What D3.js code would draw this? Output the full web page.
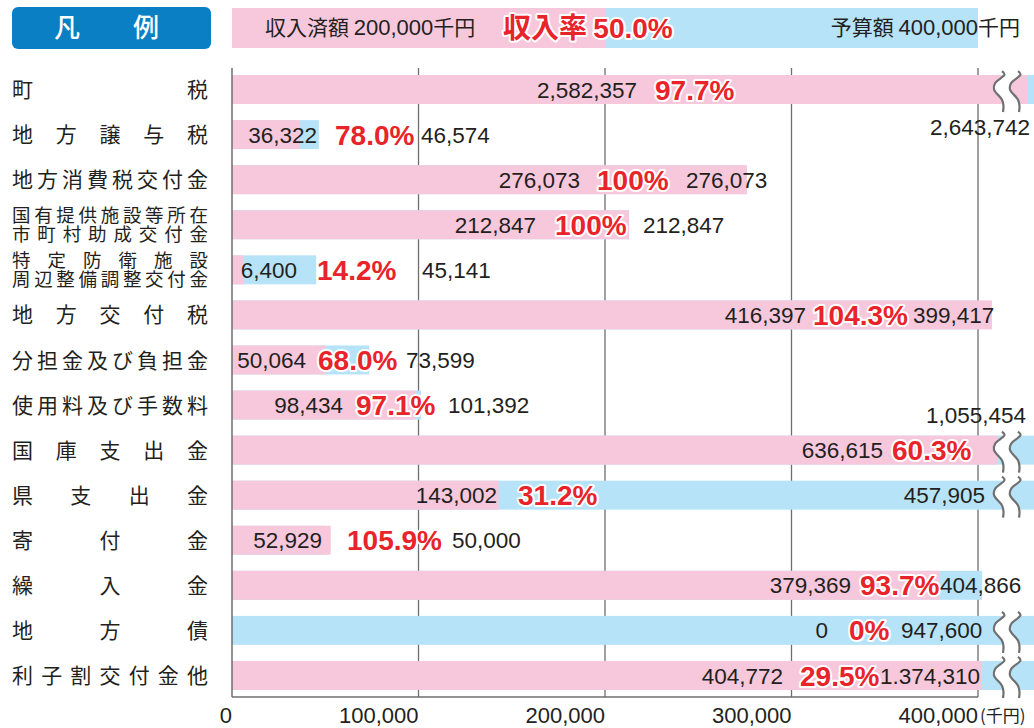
<!DOCTYPE html>
<html><head><meta charset="utf-8">
<script src="https://cdn.jsdelivr.net/npm/d3@7"></script>
<style>
html,body{margin:0;padding:0;background:#fff;}
svg{display:block;}
</style></head>
<body>
<script>
// ---------- data ----------
const categories = ["町税","地方譲与税","地方消費税交付金","国有提供施設等所在\n市町村助成交付金","特定防衛施設\n周辺整備調整交付金","地方交付税","分担金及び負担金","使用料及び手数料","国庫支出金","県支出金","寄付金","繰入金","地方債","利子割交付金他"];
const income = [2582357,36322,276073,212847,6400,416397,50064,98434,636615,143002,52929,379369,0,404772];
const budget = [2643742,46574,276073,212847,45141,399417,73599,101392,1055454,457905,50000,404866,947600,1374310];
const rateLabels = ["97.7%","78.0%","100%","100%","14.2%","104.3%","68.0%","97.1%","60.3%","31.2%","105.9%","93.7%","0%","29.5%"];
const incomeLabels = ["2,582,357","36,322","276,073","212,847","6,400","416,397","50,064","98,434","636,615","143,002","52,929","379,369","0","404,772"];
const budgetLabels = ["2,643,742","46,574","276,073","212,847","45,141","399,417","73,599","101,392","1,055,454","457,905","50,000","404,866","947,600","1.374,310"];
const xTicks = [0,100000,200000,300000,400000];
const xTickLabels = ["0","100,000","200,000","300,000","400,000"];
const legendIncome = 200000, legendBudget = 400000, legendRate = "50.0%";

// ---------- layout (label positions, px) ----------
// [income text right edge, rate text left edge, budget text left edge | null = placed outside | "rN" = right-aligned at N]
const labelX = [
  [637,655,null],[317,335,421],[580,597,686],[536,555,643],[297,317,422],
  [806,813,913],[306,318,406],[343,356,448],[883,892,null],[497,518,"r985"],
  [322,347,452],[851,860,940],[828,849,901],[783,800,880]
];

const W = 1034, H = 728;
const pink = "#f7c8dc", blue = "#b6e3f7", red = "#e8232a", ink = "#231f20", grid = "#6e6e6e";
const numFont = "'Liberation Sans', Arial, Helvetica, sans-serif";
const cjkFont = "'Noto Sans CJK JP', 'Noto Sans', sans-serif";

const svg = d3.select("body").append("svg").attr("width", W).attr("height", H);

// x scale with a compressed segment beyond 400,000 (break zone)
const breakAt = 420000;
const x = d3.scaleLinear()
  .domain([0, 400000, breakAt, 2520000, 2643742])
  .range([232, 978, 995, 1020, 1034]);
const y = d3.scaleBand().domain(d3.range(categories.length)).range([67, 698]).paddingInner(0.357).paddingOuter(0.1785);

// ---------- legend ----------
svg.append("rect").attr("x",12).attr("y",7).attr("width",199).attr("height",42).attr("rx",6).attr("fill","#0a7fc4");
svg.append("text").attr("x",67).attr("y",28).attr("dy","0.35em").attr("text-anchor","middle")
  .attr("font-family",cjkFont).attr("font-size",26).attr("font-weight",500).attr("fill","#fff").text("凡");
svg.append("text").attr("x",146).attr("y",28).attr("dy","0.35em").attr("text-anchor","middle")
  .attr("font-family",cjkFont).attr("font-size",26).attr("font-weight",500).attr("fill","#fff").text("例");
svg.append("rect").attr("x",x(0)).attr("y",8).attr("width",x(legendBudget)-x(0)).attr("height",40).attr("fill",blue);
svg.append("rect").attr("x",x(0)).attr("y",8).attr("width",x(legendIncome)-x(0)).attr("height",40).attr("fill",pink);
const lt1 = svg.append("text").attr("x",265).attr("y",28).attr("dy","0.35em").attr("fill",ink).attr("font-size",21);
lt1.append("tspan").attr("font-family",cjkFont).text("収入済額 ");
lt1.append("tspan").attr("font-family",numFont).attr("font-size",22).text(d3.format(",")(legendIncome));
lt1.append("tspan").attr("font-family",cjkFont).text("千円");
const lt2 = svg.append("text").attr("x",503).attr("y",28).attr("dy","0.35em").attr("fill",red)
  .attr("font-weight","bold").attr("font-size",28)
  .attr("stroke","#fff").attr("stroke-width",4).attr("stroke-linejoin","round").attr("paint-order","stroke");
lt2.append("tspan").attr("font-family",cjkFont).text("収入率 ");
lt2.append("tspan").attr("font-family",numFont).text(legendRate);
const lt3 = svg.append("text").attr("x",1020).attr("y",28).attr("dy","0.35em").attr("text-anchor","end").attr("fill",ink).attr("font-size",21);
lt3.append("tspan").attr("font-family",cjkFont).text("予算額 ");
lt3.append("tspan").attr("font-family",numFont).attr("font-size",22).text(d3.format(",")(legendBudget));
lt3.append("tspan").attr("font-family",cjkFont).text("千円");

// ---------- grid ----------
const gTop = 68, gBot = 697;
svg.append("g").selectAll("line").data(xTicks.slice(1)).join("line")
  .attr("x1",d=>x(d)).attr("x2",d=>x(d)).attr("y1",gTop).attr("y2",gBot)
  .attr("stroke",grid).attr("stroke-width",1.3);

// ---------- bars ----------
const rows = categories.map((c,i)=>({i,c,inc:income[i],bud:budget[i]}));
const budEnd = d => d.bud > breakAt ? Math.max(x(d.bud), W) : x(d.bud);
svg.append("g").selectAll("rect").data(rows).join("rect")
  .attr("x",x(0)).attr("y",d=>y(d.i)).attr("height",y.bandwidth())
  .attr("width",d=>budEnd(d)-x(0)).attr("fill",blue);
svg.append("g").selectAll("rect").data(rows).join("rect")
  .attr("x",x(0)).attr("y",d=>y(d.i)).attr("height",y.bandwidth())
  .attr("width",d=>Math.max(0,x(d.inc)-x(0))).attr("fill",pink);

// ---------- break symbols ----------
const breakRows = rows.filter(d => d.bud > breakAt);
const wave = (xr, top, bot) => {
  const h = bot - top;
  return [[xr-1,top],[xr+1.5,top+h*0.08],[xr-8,top+h*0.3],[xr-9,top+h*0.45],[xr-1,top+h*0.7],[xr+0.5,top+h*0.85],[xr,bot]];
};
const lineGen = d3.line().curve(d3.curveCatmullRom.alpha(0.5));
breakRows.forEach(d=>{
  const top = y(d.i)-4, bot = y(d.i)+y.bandwidth()+8;
  const a = wave(1003, top, bot), b = wave(1019, top, bot);
  const area = lineGen(a) + "L" + lineGen(b.slice().reverse()).slice(1) + "Z";
  svg.append("path").attr("d", area).attr("fill","#fff");
  svg.append("path").attr("d", lineGen(a)).attr("fill","none").attr("stroke","#707070").attr("stroke-width",2.2);
  svg.append("path").attr("d", lineGen(b)).attr("fill","none").attr("stroke","#707070").attr("stroke-width",2.2);
});

// ---------- axes ----------
svg.append("line").attr("x1",x(0)).attr("x2",x(0)).attr("y1",gTop).attr("y2",gBot).attr("stroke",grid).attr("stroke-width",1.5);
svg.append("line").attr("x1",x(0)).attr("x2",x(400000)).attr("y1",gBot).attr("y2",gBot).attr("stroke",grid).attr("stroke-width",1.5);
svg.append("g").selectAll("text").data(xTicks).join("text")
  .attr("x",d=>x(d)).attr("y",723).attr("text-anchor","end")
  .attr("font-family",numFont).attr("font-size",22).attr("fill",ink)
  .text((d,i)=>xTickLabels[i]);
svg.append("text").attr("x",x(400000)+2).attr("y",722).attr("font-family",cjkFont).attr("font-size",17).attr("fill",ink).text("(千円)");

// ---------- category labels ----------
const L = 12, R = 208;
rows.forEach(d=>{
  const lines = d.c.split("\n");
  const cy = y(d.i) + y.bandwidth()/2;
  const fs = lines.length > 1 ? 18.5 : 21;
  lines.forEach((ln, k)=>{
    const chars = Array.from(ln);
    const ly = lines.length > 1 ? cy + (k===0 ? -9.5 : 9.5) : cy;
    const n = chars.length;
    chars.forEach((ch, j)=>{
      const cx = L + fs/2 + (n>1 ? j*(R-L-fs)/(n-1) : 0);
      svg.append("text").attr("x",cx).attr("y",ly).attr("dy","0.36em").attr("text-anchor","middle")
        .attr("font-family",cjkFont).attr("font-size",fs).attr("fill",ink).text(ch);
    });
  });
});

// ---------- value labels ----------
rows.forEach(d=>{
  const cy = y(d.i) + y.bandwidth()/2;
  const [ir, pl, bl] = labelX[d.i];
  svg.append("text").attr("x",ir).attr("y",cy).attr("dy","0.36em").attr("text-anchor","end")
    .attr("font-family",numFont).attr("font-size",22.5).attr("fill",ink).text(incomeLabels[d.i]);
  svg.append("text").attr("x",pl).attr("y",cy).attr("dy","0.36em")
    .attr("font-family",numFont).attr("font-size",28).attr("font-weight","bold").attr("fill",red)
    .attr("stroke","#fff").attr("stroke-width",4).attr("stroke-linejoin","round").attr("paint-order","stroke")
    .text(rateLabels[d.i]);
  const bt = svg.append("text").attr("font-family",numFont).attr("font-size",22.5).attr("fill",ink).attr("dy","0.36em").text(budgetLabels[d.i]);
  if (bl === null) {
    const below = d.i === 0;
    bt.attr("x", below ? 1030 : 1026).attr("text-anchor","end")
      .attr("y", below ? y(d.i)+y.bandwidth()+23 : y(d.i)-21);
  } else if (typeof bl === "string") {
    bt.attr("x", +bl.slice(1)).attr("text-anchor","end").attr("y", cy);
  } else {
    bt.attr("x", bl).attr("y", cy);
  }
});
</script>
</body></html>
